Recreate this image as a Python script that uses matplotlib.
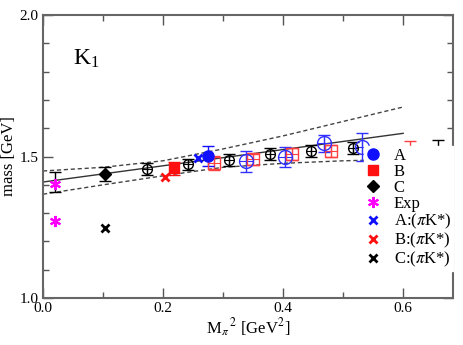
import matplotlib
matplotlib.use("Agg")
import matplotlib.pyplot as plt

plt.rcParams['font.family'] = ['Liberation Serif', 'DejaVu Serif']
plt.rcParams['mathtext.fontset'] = 'stix'

# lattice ensembles (filled = K1 mass, open = other fits)
a_x, a_y, a_err = [0.275], [1.502], [0.034]
b_x, b_y, b_err = [0.218], [1.459], [0.023]
c_x, c_y, c_err = [0.103], [1.438], [0.025]

a_open_x = [0.338, 0.403, 0.468, 0.532]
a_open_y = [1.484, 1.498, 1.547, 1.534]
a_open_err = [0.037, 0.035, 0.030, 0.048]

b_open_x = [0.285, 0.350, 0.415, 0.480, 0.612]
b_open_y = [1.477, 1.490, 1.509, 1.520, 1.500]
b_open_err = [0.025, 0.020, 0.020, 0.020, 0.055]

c_open_x = [0.173, 0.242, 0.310, 0.378, 0.447, 0.517, 0.658]
c_open_y = [1.456, 1.473, 1.488, 1.509, 1.520, 1.530, 1.500]
c_open_err = [0.020, 0.020, 0.020, 0.020, 0.020, 0.020, 0.057]

# pi K* thresholds
a_pk_x, a_pk_y = [0.258], [1.495]
b_pk_x, b_pk_y = [0.203], [1.428]
c_pk_x, c_pk_y = [0.103], [1.247]

# experiment and extrapolated value at physical point
exp_x = [0.0195, 0.0195]
exp_y = [1.403, 1.272]
phys_x, phys_y, phys_err = [0.0195], [1.41], [0.035]

# chiral fit and error band
fit_x = [0.0, 0.6]
fit_y = [1.41, 1.582]
band_x = [0.0, 0.1, 0.2, 0.3, 0.4, 0.5, 0.6]
band_up = [1.449, 1.462, 1.485, 1.527, 1.573, 1.624, 1.675]
band_lo = [1.367, 1.400, 1.432, 1.462, 1.476, 1.485, 1.490]

fig = plt.figure(figsize=(4.63, 3.45), dpi=100)
ax = fig.add_axes([0.0929, 0.136, 0.8855, 0.8205])

ax.plot(fit_x, fit_y, color='#333333', lw=1.0)
ax.plot(band_x, band_up, color='#444444', lw=1.0, ls=(0, (3, 2)))
ax.plot(band_x, band_lo, color='#444444', lw=1.0, ls=(0, (3, 2)))

eb = dict(ls='none', capsize=4, elinewidth=1.0, capthick=1.0)

ax.errorbar(phys_x, phys_y, yerr=phys_err, color='black', **eb)

ax.errorbar(c_open_x, c_open_y, yerr=c_open_err, color='black', marker='o',
            mfc='none', ms=7, mew=1.0, **eb)
ax.plot(c_open_x, c_open_y, ls='none', marker='+', color='black', ms=7, mew=0.8)
ax.errorbar(b_open_x, b_open_y, yerr=b_open_err, color='#ff4040', marker='s',
            mfc='none', ms=8, mew=1.0, **eb)
ax.plot(b_open_x, b_open_y, ls='none', marker='+', color='#ff4040', ms=8, mew=0.8)
ax.errorbar(a_open_x, a_open_y, yerr=a_open_err, color='#3030ff', marker='o',
            mfc='none', ms=10, mew=1.0, **eb)
ax.plot(a_open_x, a_open_y, ls='none', marker='+', color='#3030ff', ms=10, mew=0.8)

hA = ax.errorbar(a_x, a_y, yerr=a_err, color='#1010ff', marker='o', ms=8, **eb)
hB = ax.errorbar(b_x, b_y, yerr=b_err, color='#ff1010', marker='s', ms=7, **eb)
hC = ax.errorbar(c_x, c_y, yerr=c_err, color='black', marker='D', ms=6.5, **eb)
hE, = ax.plot(exp_x, exp_y, ls='none', marker=(6, 2, 0), color='#ff00ff', ms=8, mew=1.5)
hAp, = ax.plot(a_pk_x, a_pk_y, ls='none', marker='x', color='#1010ff', ms=6, mew=2)
hBp, = ax.plot(b_pk_x, b_pk_y, ls='none', marker='x', color='#ff1010', ms=6, mew=2)
hCp, = ax.plot(c_pk_x, c_pk_y, ls='none', marker='x', color='black', ms=6, mew=2)

handles = [hA[0], hB[0], hC[0], hE, hAp, hBp, hCp]
labels = ['A', 'B', 'C', 'Exp', r'A:($\pi$K*)', r'B:($\pi$K*)', r'C:($\pi$K*)']
leg = ax.legend(handles, labels, loc='upper left', bbox_to_anchor=(0.782, 0.537),
                frameon=True, fancybox=False, framealpha=1.0, edgecolor='white',
                fontsize=12, handlelength=0.9, handletextpad=0.8, labelspacing=0.0,
                borderpad=0.1, borderaxespad=0.0)
leg.set_zorder(10)

ax.text(0.073, 0.825, r'K$_{\mathregular{1}}$', transform=ax.transAxes, fontsize=17)

ax.set_xlim(0.0, 0.683)
ax.set_ylim(1.0, 2.0)
ax.set_xticks([0.0, 0.2, 0.4, 0.6])
ax.set_xticklabels(['0.0', '0.2', '0.4', '0.6'])
ax.set_xticks([0.1, 0.3, 0.5], minor=True)
ax.set_yticks([1.0, 1.5, 2.0])
ax.set_yticklabels(['1.0', '1.5', '2.0'])
ax.set_yticks([1.1, 1.2, 1.3, 1.4, 1.6, 1.7, 1.8, 1.9], minor=True)
ax.tick_params(which='both', direction='in', top=True, right=True, labelsize=11,
               color='#555555', width=1.0)
ax.tick_params(which='major', length=7, pad=3)
ax.tick_params(which='minor', length=4)
for s in ax.spines.values():
    s.set_color('#666666')
    s.set_linewidth(1.5)

ax.set_xlabel(r'M$_{\pi}$$^{\,2}$ [GeV$^2$]', fontsize=12, labelpad=1)
ax.set_ylabel('mass [GeV]', fontsize=12, labelpad=2)

fig.savefig('out.png', dpi=100)
